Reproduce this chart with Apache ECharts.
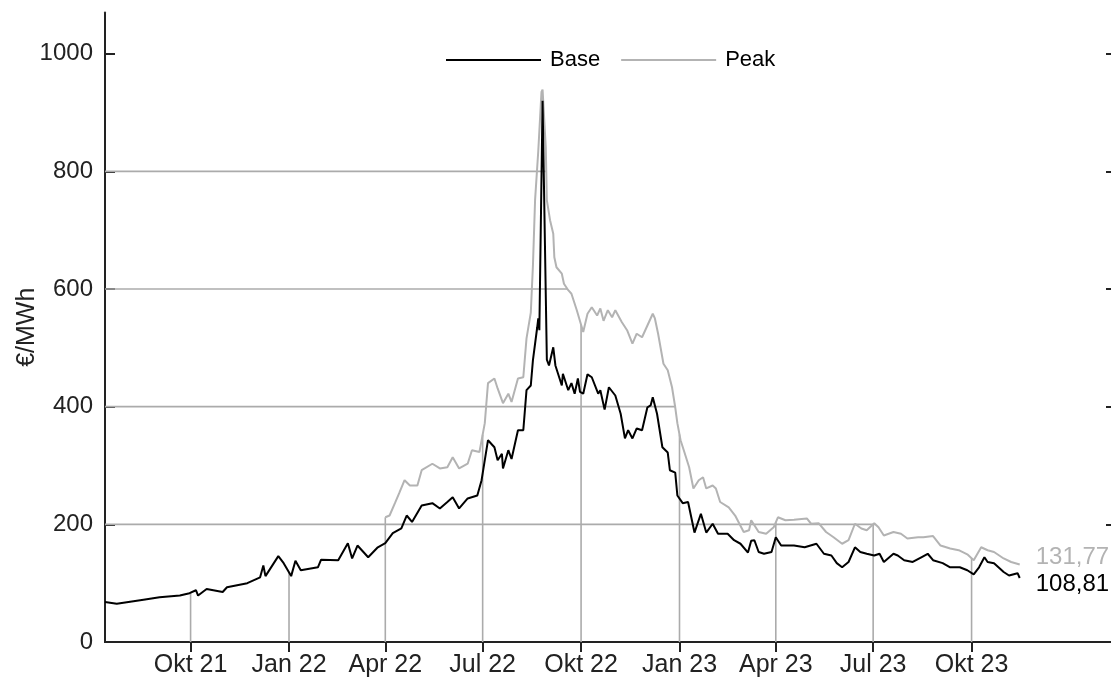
<!DOCTYPE html>
<html>
<head>
<meta charset="utf-8">
<script src="https://cdn.jsdelivr.net/npm/echarts@6/dist/echarts.min.js"></script>
<style>html,body{margin:0;padding:0;background:#fff;}#c{width:1111px;height:680px;}</style>
</head>
<body>
<div id="c"></div>
<script>
const baseDates = ['2021-07-13','2021-07-24','2021-08-18','2021-09-02','2021-09-21','2021-09-30','2021-10-06','2021-10-08','2021-10-16','2021-10-31','2021-11-04','2021-11-23','2021-12-05','2021-12-08','2021-12-10','2021-12-22','2021-12-27','2022-01-03','2022-01-07','2022-01-12','2022-01-28','2022-01-31','2022-02-16','2022-02-25','2022-03-01','2022-03-06','2022-03-16','2022-03-25','2022-04-01','2022-04-08','2022-04-16','2022-04-21','2022-04-26','2022-05-05','2022-05-15','2022-05-22','2022-05-29','2022-06-03','2022-06-09','2022-06-17','2022-06-26','2022-06-30','2022-07-06','2022-07-12','2022-07-15','2022-07-19','2022-07-20','2022-07-25','2022-07-28','2022-08-03','2022-08-08','2022-08-11','2022-08-15','2022-08-17','2022-08-21','2022-08-22','2022-08-23','2022-08-26','2022-08-30','2022-09-01','2022-09-05','2022-09-07','2022-09-13','2022-09-14','2022-09-19','2022-09-22','2022-09-25','2022-09-28','2022-09-30','2022-10-03','2022-10-07','2022-10-11','2022-10-17','2022-10-19','2022-10-23','2022-10-27','2022-11-02','2022-11-07','2022-11-11','2022-11-14','2022-11-18','2022-11-22','2022-11-27','2022-12-02','2022-12-05','2022-12-07','2022-12-11','2022-12-16','2022-12-21','2022-12-23','2022-12-28','2022-12-30','2023-01-04','2023-01-09','2023-01-15','2023-01-21','2023-01-26','2023-02-01','2023-02-06','2023-02-15','2023-02-21','2023-02-27','2023-03-06','2023-03-09','2023-03-12','2023-03-16','2023-03-21','2023-03-28','2023-04-01','2023-04-06','2023-04-18','2023-04-28','2023-05-09','2023-05-16','2023-05-23','2023-05-28','2023-06-02','2023-06-08','2023-06-14','2023-06-19','2023-06-25','2023-07-02','2023-07-07','2023-07-11','2023-07-20','2023-07-24','2023-07-30','2023-08-07','2023-08-15','2023-08-21','2023-08-26','2023-09-04','2023-09-11','2023-09-20','2023-09-27','2023-10-03','2023-10-08','2023-10-13','2023-10-16','2023-10-22','2023-10-31','2023-11-05','2023-11-13','2023-11-15'];
const baseValues = [68,65,72,76,79,83,88,79,90,85,93,100,110,130,112,146,134,112,138,122,127,140,139,168,142,164,144,161,168,185,193,215,204,232,236,227,238,246,227,244,249,275,343,331,309,320,295,326,311,360,360,428,436,479,535,550,530,920,480,470,501,470,436,456,428,440,422,448,425,422,455,450,422,428,395,433,419,388,346,360,346,363,360,399,402,416,388,331,322,292,288,249,236,238,186,218,186,201,184,184,173,167,152,172,173,153,150,153,178,164,164,161,167,150,147,134,127,136,161,153,150,147,150,136,150,147,139,136,144,150,139,134,127,127,122,115,127,144,136,134,119,113,117,108.81];

const peakDates = ['2022-04-01','2022-04-05','2022-04-10','2022-04-14','2022-04-19','2022-04-24','2022-05-01','2022-05-05','2022-05-15','2022-05-22','2022-05-29','2022-06-03','2022-06-09','2022-06-17','2022-06-21','2022-06-28','2022-07-03','2022-07-06','2022-07-12','2022-07-15','2022-07-20','2022-07-25','2022-07-28','2022-08-03','2022-08-08','2022-08-11','2022-08-15','2022-08-17','2022-08-19','2022-08-22','2022-08-25','2022-08-26','2022-08-29','2022-08-30','2022-09-02','2022-09-05','2022-09-06','2022-09-08','2022-09-13','2022-09-15','2022-09-19','2022-09-22','2022-09-27','2022-10-03','2022-10-07','2022-10-11','2022-10-16','2022-10-19','2022-10-22','2022-10-26','2022-10-30','2022-11-02','2022-11-08','2022-11-13','2022-11-18','2022-11-22','2022-11-27','2022-12-02','2022-12-07','2022-12-09','2022-12-12','2022-12-17','2022-12-21','2022-12-25','2022-12-28','2022-12-30','2023-01-02','2023-01-05','2023-01-10','2023-01-14','2023-01-19','2023-01-23','2023-01-26','2023-02-01','2023-02-04','2023-02-08','2023-02-16','2023-02-22','2023-03-02','2023-03-07','2023-03-09','2023-03-16','2023-03-23','2023-03-30','2023-04-03','2023-04-10','2023-04-18','2023-04-30','2023-05-04','2023-05-11','2023-05-18','2023-05-25','2023-06-02','2023-06-08','2023-06-14','2023-06-20','2023-06-25','2023-07-02','2023-07-06','2023-07-11','2023-07-20','2023-07-27','2023-08-02','2023-08-12','2023-08-17','2023-08-26','2023-09-02','2023-09-11','2023-09-19','2023-09-27','2023-10-03','2023-10-10','2023-10-16','2023-10-22','2023-10-31','2023-11-07','2023-11-15'];
const peakValues = [212,215,236,253,275,266,266,292,303,295,297,314,295,303,326,323,372,440,448,431,406,422,408,448,450,516,560,640,751,835,935,939,841,751,717,694,654,637,626,609,598,592,564,527,558,569,555,567,546,564,552,564,544,530,507,524,518,538,558,550,524,473,462,433,399,372,343,326,297,261,275,280,261,266,261,238,229,215,187,190,207,187,184,195,212,207,208,210,201,202,187,178,167,173,201,193,190,202,195,181,187,184,176,178,178,180,164,159,156,149,139,161,156,153,142,136,131.77];

const xTickDates = ['2021-10-01','2022-01-01','2022-04-01','2022-07-01','2022-10-01','2023-01-01','2023-04-01','2023-07-01','2023-10-01'];
const xTickLabels = ['Okt 21','Jan 22','Apr 22','Jul 22','Okt 22','Jan 23','Apr 23','Jul 23','Okt 23'];
const yTicks = [0,200,400,600,800,1000];
const xRange = ['2021-07-13','2024-02-13'];
const yRange = [0,1070];

const ts = s => new Date(s + 'T00:00:00Z').getTime();
const baseData = baseDates.map((d,i)=>[ts(d), baseValues[i]]);
const peakData = peakDates.map((d,i)=>[ts(d), peakValues[i]]);
const xTickTs = xTickDates.map(ts);
const labelMap = {}; xTickTs.forEach((t,i)=>labelMap[t]=xTickLabels[i]);
const xMin = ts(xRange[0]), xMax = ts(xRange[1]);

function interp(data, t){
  if (t < data[0][0] || t > data[data.length-1][0]) return null;
  for (let i=0;i<data.length-1;i++){
    if (t>=data[i][0] && t<=data[i+1][0]){
      const f=(t-data[i][0])/(data[i+1][0]-data[i][0]||1);
      return data[i][1]+f*(data[i+1][1]-data[i][1]);
    }
  }
  return data[data.length-1][1];
}
const allT = Array.from(new Set(baseData.map(p=>p[0]).concat(peakData.map(p=>p[0])))).sort((a,b)=>a-b);
const env = allT.map(t=>{
  const a=interp(baseData,t), b=interp(peakData,t);
  return [t, Math.max(a==null?-Infinity:a, b==null?-Infinity:b)];
});
const gridSegs = [];
yTicks.filter(v=>v>0).forEach(L=>{
  let i=env.length-1;
  while(i>=0 && env[i][1]<L) i--;
  if(i<0) return;
  let tEnd;
  if(i===env.length-1) tEnd=env[i][0];
  else {
    const f=(env[i][1]-L)/(env[i][1]-env[i+1][1]);
    tEnd=env[i][0]+f*(env[i+1][0]-env[i][0]);
  }
  gridSegs.push([xMin, L, tEnd, L]);
});
xTickTs.forEach(t=>{
  const a=interp(baseData,t), b=interp(peakData,t);
  const v = Math.max(a==null?-Infinity:a, b==null?-Infinity:b);
  if (isFinite(v)) gridSegs.push([t, 0, t, v]);
});

const FONT = "'Liberation Sans', Arial, Helvetica, sans-serif";
const fmt = v => v.toFixed(2).replace('.', ',');
const chart = echarts.init(document.getElementById('c'), null, {renderer:'canvas'});
chart.setOption({
  animation:false,
  backgroundColor:'#fff',
  textStyle:{fontFamily:FONT},
  grid:{left:105, top:12.5, right:-5, bottom:38, containLabel:false, outerBoundsMode:'none'},
  legend:{
    left:446, top:49, itemWidth:95, itemHeight:2, itemGap:21, padding:0, icon:'rect',
    textStyle:{fontSize:22, color:'#000', fontFamily:FONT, padding:[0,0,0,4]},
    data:['Base','Peak']
  },
  xAxis:[{
    type:'value', min:xMin, max:xMax, position:'bottom',
    axisLine:{show:true, lineStyle:{color:'#222', width:2}},
    axisTick:{show:false},
    splitLine:{show:false},
    axisLabel:{customValues:xTickTs, formatter:v=>labelMap[v]||'', fontSize:25, color:'#222', margin:11, fontFamily:FONT}
  },{
    type:'value', min:xMin, max:xMax, position:'top',
    axisLine:{show:true, lineStyle:{color:'#222', width:2}},
    axisTick:{show:true, inside:true, length:10, customValues:xTickTs, lineStyle:{color:'#222', width:2}},
    axisLabel:{show:false},
    splitLine:{show:false}
  }],
  yAxis:[{
    type:'value', min:yRange[0], max:yRange[1], position:'left',
    name:'€/MWh', nameLocation:'middle', nameGap:65, nameRotate:90, nameMoveOverlap:false,
    nameTextStyle:{fontSize:25, color:'#222', fontFamily:FONT},
    axisLine:{show:true, lineStyle:{color:'#222', width:2}},
    axisTick:{show:true, inside:true, length:10, customValues:yTicks, lineStyle:{color:'#222', width:2}},
    axisLabel:{customValues:yTicks, formatter:v=>String(v), fontSize:24, color:'#222', margin:12, fontFamily:FONT},
    splitLine:{show:false}
  },{
    type:'value', min:yRange[0], max:yRange[1], position:'right',
    axisLine:{show:true, lineStyle:{color:'#222', width:2}},
    axisTick:{show:true, inside:true, length:10, customValues:yTicks, lineStyle:{color:'#222', width:2}},
    axisLabel:{show:false},
    splitLine:{show:false}
  }],
  series:[{
    type:'custom', name:'grid', silent:true, z:1,
    xAxisIndex:0, yAxisIndex:0,
    encode:{x:[0,2], y:[1,3]},
    data:gridSegs,
    renderItem:(params, api)=>{
      const p0=api.coord([api.value(0), api.value(1)]);
      const p1=api.coord([api.value(2), api.value(3)]);
      return {type:'line', shape:{x1:p0[0], y1:p0[1], x2:p1[0], y2:p1[1]}, style:{stroke:'#ababab', lineWidth:1.6}};
    }
  },{
    type:'line', name:'Peak', data:peakData, showSymbol:false, symbol:'none', z:3,
    lineStyle:{color:'#b3b3b3', width:2}, itemStyle:{color:'#b3b3b3'},
    endLabel:{show:true, formatter:p=>fmt(p.value[1]), color:'#b3b3b3', fontSize:24, distance:16, offset:[0,-7], fontFamily:FONT}
  },{
    type:'line', name:'Base', data:baseData, showSymbol:false, symbol:'none', z:4,
    lineStyle:{color:'#000', width:2}, itemStyle:{color:'#000'},
    endLabel:{show:true, formatter:p=>fmt(p.value[1]), color:'#000', fontSize:24, distance:16, offset:[0,6], fontFamily:FONT}
  }]
});
</script>
</body>
</html>
